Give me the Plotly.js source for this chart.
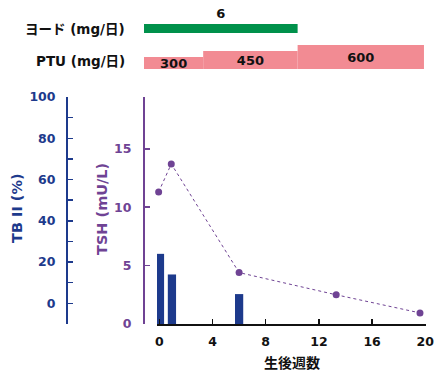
<!DOCTYPE html>
<html><head><meta charset="utf-8">
<script src="https://cdn.plot.ly/plotly-3.0.1.min.js"></script>
<style>html,body{margin:0;padding:0;background:#fff}#chart{width:444px;height:381px}</style>
</head><body><div id="chart"></div>
<script>
// ---- data ----
const weeksTB = [0.05, 0.95, 6];
const tbValues = [24, 14, 4.5];
const weeksTSH = [-0.05, 0.9, 6, 13.3, 19.6];
const tshValues = [11.3, 13.7, 4.4, 2.5, 0.95];
const xTicks = [0, 4, 8, 12, 16, 20];
const iodineStart = [-1.15];
const iodineEnd = [10.4];
const iodineDose = [6];
const ptuStart = [-1.15, 3.3, 10.4];
const ptuEnd = [3.3, 10.4, 19.9];
const ptuDose = [300, 450, 600];
const tbBase = -10;

// ---- styling ----
const W = 444, H = 381;
const FONT = "DejaVu Sans, Noto Sans CJK JP";
const BLUE = "#1d3a8c", PURPLE = "#6f4394", GREEN = "#00914b", PINK = "#f28b93";
const px2w = p => (p - 159.3) / 13.3;
const yf = p => 1 - p / H;

const traces = [
  {type: "bar", x: weeksTB, y: tbValues.map(v => v - tbBase), base: tbBase,
   width: 0.62, xaxis: "x", yaxis: "y", marker: {color: BLUE}, hoverinfo: "skip"},
  {type: "scatter", mode: "lines+markers", x: weeksTSH, y: tshValues, xaxis: "x", yaxis: "y2",
   line: {color: PURPLE, width: 1, dash: "dot"}, marker: {color: PURPLE, size: 7}, cliponaxis: false},
  {type: "bar", x: iodineStart, y: iodineDose, width: iodineEnd.map((e, i) => e - iodineStart[i]), offset: 0,
   xaxis: "x2", yaxis: "y4", marker: {color: GREEN}, text: iodineDose.map(String),
   textposition: "outside", textangle: 0, cliponaxis: false,
   outsidetextfont: {family: FONT, size: 13, color: "#111", weight: 700}},
  {type: "bar", x: ptuStart, y: ptuDose, width: ptuEnd.map((e, i) => e - ptuStart[i]), offset: 0,
   xaxis: "x2", yaxis: "y3", marker: {color: PINK}, text: ptuDose.map(String),
   textposition: "inside", insidetextanchor: "middle", textangle: 0, constraintext: "none",
   insidetextfont: {family: FONT, size: 13, color: "#111", weight: 700}, cliponaxis: false}
];

const tickFont = c => ({family: FONT, size: 12.5, color: c, weight: 700});

const layout = {
  width: W, height: H, margin: {l: 0, r: 0, t: 0, b: 0},
  paper_bgcolor: "#fff", plot_bgcolor: "rgba(0,0,0,0)", showlegend: false, barmode: "overlay",
  xaxis: {domain: [157 / W, 426 / W], range: [px2w(157), px2w(426)], anchor: "y",
    tickvals: xTicks, ticks: "inside", ticklen: 5, tickwidth: 1.5, tickcolor: "#111",
    showline: true, linecolor: "#111", linewidth: 2, showgrid: false, zeroline: false,
    tickfont: tickFont("#111"), ticklabelstandoff: 5, automargin: false},
  yaxis: {domain: [yf(324), yf(97)], range: [-10, 100], anchor: "free", position: 67 / W,
    tick0: 0, dtick: 20, ticks: "inside", ticklen: 5, tickwidth: 1.5, tickcolor: BLUE,
    minor: {dtick: 10, tick0: 0, ticks: "inside", ticklen: 5, tickwidth: 1.5, tickcolor: BLUE, showgrid: false},
    showline: true, linecolor: BLUE, linewidth: 2, showgrid: false, zeroline: false,
    tickfont: tickFont(BLUE), ticklabelstandoff: 8, automargin: false},
  yaxis2: {domain: [yf(324), yf(97)], range: [0, 19.43], overlaying: "y", anchor: "free", position: 143 / W,
    side: "left", tickvals: [0, 5, 10, 15], ticks: "inside", ticklen: 5, tickwidth: 1.5, tickcolor: PURPLE,
    showline: true, linecolor: PURPLE, linewidth: 1.5, showgrid: false, zeroline: false,
    tickfont: tickFont(PURPLE), ticklabelstandoff: 9, automargin: false},
  xaxis2: {domain: [0, 1], range: [px2w(0), px2w(W)], anchor: "y3", visible: false},
  yaxis3: {domain: [yf(69), yf(45)], range: [0, 600], anchor: "x2", visible: false},
  yaxis4: {domain: [yf(33), yf(24)], range: [0, 6], anchor: "x2", visible: false},
  annotations: [
    {text: "ヨード (mg/日)", xref: "paper", yref: "paper", x: 127 / W, y: yf(29), xanchor: "right", yanchor: "middle",
     showarrow: false, font: {family: FONT, size: 13.5, color: "#111", weight: 700}},
    {text: "PTU (mg/日)", xref: "paper", yref: "paper", x: 127 / W, y: yf(61), xanchor: "right", yanchor: "middle",
     showarrow: false, font: {family: FONT, size: 13.5, color: "#111", weight: 700}},
    {text: "TB II (%)", xref: "paper", yref: "paper", x: 17 / W, y: yf(208), xanchor: "center", yanchor: "middle",
     textangle: -90, showarrow: false, font: {family: FONT, size: 14.5, color: BLUE, weight: 700}},
    {text: "TSH (mU/L)", xref: "paper", yref: "paper", x: 102 / W, y: yf(209), xanchor: "center", yanchor: "middle",
     textangle: -90, showarrow: false, font: {family: FONT, size: 14.5, color: PURPLE, weight: 700}},
    {text: "生後週数", xref: "paper", yref: "paper", x: 292 / W, y: yf(363), xanchor: "center", yanchor: "middle",
     showarrow: false, font: {family: FONT, size: 14, color: "#111", weight: 700}}
  ]
};

Plotly.newPlot("chart", traces, layout, {staticPlot: true, displayModeBar: false});
</script></body></html>
